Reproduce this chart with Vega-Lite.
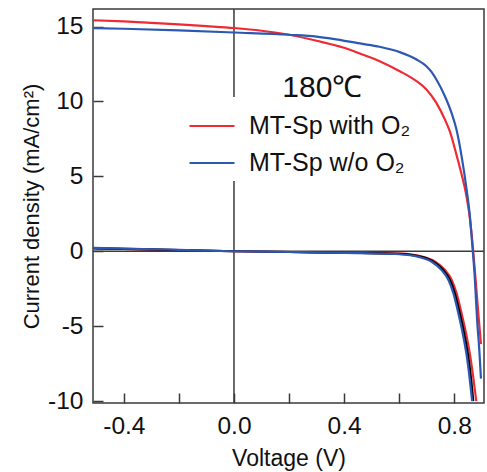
{
  "$schema": "https://vega.github.io/schema/vega-lite/v6.json",
  "width": 391,
  "height": 394,
  "autosize": {"type": "none"},
  "padding": {"left": 93, "top": 9, "right": 3, "bottom": 69},
  "background": "white",
  "config": {
    "font": "Liberation Sans",
    "view": {"stroke": "#3a3a3a", "strokeWidth": 1.5},
    "axis": {"grid": false, "domain": false, "labelFont": "Liberation Sans", "titleFont": "Liberation Sans", "labelColor": "#111", "titleColor": "#111", "tickColor": "#3a3a3a", "tickWidth": 1.5, "titleFontWeight": "normal"}
  },
  "datasets": {
    "curves": [
      {"sample": "MT-Sp with O₂", "condition": "light", "V": -0.51, "J": 15.42},
      {"sample": "MT-Sp with O₂", "condition": "light", "V": -0.4, "J": 15.34},
      {"sample": "MT-Sp with O₂", "condition": "light", "V": -0.3, "J": 15.25},
      {"sample": "MT-Sp with O₂", "condition": "light", "V": -0.2, "J": 15.15},
      {"sample": "MT-Sp with O₂", "condition": "light", "V": -0.1, "J": 15.03},
      {"sample": "MT-Sp with O₂", "condition": "light", "V": 0.0, "J": 14.9},
      {"sample": "MT-Sp with O₂", "condition": "light", "V": 0.1, "J": 14.72},
      {"sample": "MT-Sp with O₂", "condition": "light", "V": 0.2, "J": 14.45},
      {"sample": "MT-Sp with O₂", "condition": "light", "V": 0.3, "J": 14.05},
      {"sample": "MT-Sp with O₂", "condition": "light", "V": 0.4, "J": 13.58},
      {"sample": "MT-Sp with O₂", "condition": "light", "V": 0.457, "J": 13.2},
      {"sample": "MT-Sp with O₂", "condition": "light", "V": 0.529, "J": 12.69},
      {"sample": "MT-Sp with O₂", "condition": "light", "V": 0.602, "J": 12.02},
      {"sample": "MT-Sp with O₂", "condition": "light", "V": 0.663, "J": 11.35},
      {"sample": "MT-Sp with O₂", "condition": "light", "V": 0.699, "J": 10.8},
      {"sample": "MT-Sp with O₂", "condition": "light", "V": 0.735, "J": 9.9},
      {"sample": "MT-Sp with O₂", "condition": "light", "V": 0.766, "J": 8.79},
      {"sample": "MT-Sp with O₂", "condition": "light", "V": 0.784, "J": 8.0},
      {"sample": "MT-Sp with O₂", "condition": "light", "V": 0.81, "J": 6.3},
      {"sample": "MT-Sp with O₂", "condition": "light", "V": 0.827, "J": 5.1},
      {"sample": "MT-Sp with O₂", "condition": "light", "V": 0.842, "J": 3.9},
      {"sample": "MT-Sp with O₂", "condition": "light", "V": 0.856, "J": 2.3},
      {"sample": "MT-Sp with O₂", "condition": "light", "V": 0.868, "J": 0.2},
      {"sample": "MT-Sp with O₂", "condition": "light", "V": 0.878, "J": -2.0},
      {"sample": "MT-Sp with O₂", "condition": "light", "V": 0.888, "J": -4.3},
      {"sample": "MT-Sp with O₂", "condition": "light", "V": 0.897, "J": -6.2},

      {"sample": "MT-Sp w/o O₂", "condition": "light", "V": -0.51, "J": 14.9},
      {"sample": "MT-Sp w/o O₂", "condition": "light", "V": -0.4, "J": 14.85},
      {"sample": "MT-Sp w/o O₂", "condition": "light", "V": -0.2, "J": 14.74},
      {"sample": "MT-Sp w/o O₂", "condition": "light", "V": 0.0, "J": 14.6},
      {"sample": "MT-Sp w/o O₂", "condition": "light", "V": 0.2, "J": 14.45},
      {"sample": "MT-Sp w/o O₂", "condition": "light", "V": 0.3, "J": 14.33},
      {"sample": "MT-Sp w/o O₂", "condition": "light", "V": 0.36, "J": 14.18},
      {"sample": "MT-Sp w/o O₂", "condition": "light", "V": 0.457, "J": 13.87},
      {"sample": "MT-Sp w/o O₂", "condition": "light", "V": 0.529, "J": 13.65},
      {"sample": "MT-Sp w/o O₂", "condition": "light", "V": 0.602, "J": 13.29},
      {"sample": "MT-Sp w/o O₂", "condition": "light", "V": 0.663, "J": 12.8},
      {"sample": "MT-Sp w/o O₂", "condition": "light", "V": 0.699, "J": 12.35},
      {"sample": "MT-Sp w/o O₂", "condition": "light", "V": 0.718, "J": 11.95},
      {"sample": "MT-Sp w/o O₂", "condition": "light", "V": 0.735, "J": 11.46},
      {"sample": "MT-Sp w/o O₂", "condition": "light", "V": 0.766, "J": 10.35},
      {"sample": "MT-Sp w/o O₂", "condition": "light", "V": 0.79, "J": 9.24},
      {"sample": "MT-Sp w/o O₂", "condition": "light", "V": 0.808, "J": 8.12},
      {"sample": "MT-Sp w/o O₂", "condition": "light", "V": 0.827, "J": 6.3},
      {"sample": "MT-Sp w/o O₂", "condition": "light", "V": 0.845, "J": 4.1},
      {"sample": "MT-Sp w/o O₂", "condition": "light", "V": 0.857, "J": 2.3},
      {"sample": "MT-Sp w/o O₂", "condition": "light", "V": 0.866, "J": 0.3},
      {"sample": "MT-Sp w/o O₂", "condition": "light", "V": 0.874, "J": -1.6},
      {"sample": "MT-Sp w/o O₂", "condition": "light", "V": 0.883, "J": -4.6},
      {"sample": "MT-Sp w/o O₂", "condition": "light", "V": 0.891, "J": -6.6},
      {"sample": "MT-Sp w/o O₂", "condition": "light", "V": 0.897, "J": -8.5},

      {"sample": "MT-Sp with O₂", "condition": "dark", "V": -0.51, "J": 0.19},
      {"sample": "MT-Sp with O₂", "condition": "dark", "V": -0.4, "J": 0.15},
      {"sample": "MT-Sp with O₂", "condition": "dark", "V": -0.2, "J": 0.07},
      {"sample": "MT-Sp with O₂", "condition": "dark", "V": 0.0, "J": 0.0},
      {"sample": "MT-Sp with O₂", "condition": "dark", "V": 0.2, "J": -0.05},
      {"sample": "MT-Sp with O₂", "condition": "dark", "V": 0.4, "J": -0.1},
      {"sample": "MT-Sp with O₂", "condition": "dark", "V": 0.5, "J": -0.12},
      {"sample": "MT-Sp with O₂", "condition": "dark", "V": 0.605, "J": -0.16},
      {"sample": "MT-Sp with O₂", "condition": "dark", "V": 0.68, "J": -0.34},
      {"sample": "MT-Sp with O₂", "condition": "dark", "V": 0.728, "J": -0.66},
      {"sample": "MT-Sp with O₂", "condition": "dark", "V": 0.765, "J": -1.22},
      {"sample": "MT-Sp with O₂", "condition": "dark", "V": 0.79, "J": -1.88},
      {"sample": "MT-Sp with O₂", "condition": "dark", "V": 0.808, "J": -2.78},
      {"sample": "MT-Sp with O₂", "condition": "dark", "V": 0.826, "J": -4.1},
      {"sample": "MT-Sp with O₂", "condition": "dark", "V": 0.842, "J": -5.4},
      {"sample": "MT-Sp with O₂", "condition": "dark", "V": 0.858, "J": -7.0},
      {"sample": "MT-Sp with O₂", "condition": "dark", "V": 0.869, "J": -8.4},
      {"sample": "MT-Sp with O₂", "condition": "dark", "V": 0.88, "J": -10.0},

      {"sample": "Reference", "condition": "dark", "V": -0.51, "J": 0.2},
      {"sample": "Reference", "condition": "dark", "V": -0.4, "J": 0.16},
      {"sample": "Reference", "condition": "dark", "V": -0.2, "J": 0.08},
      {"sample": "Reference", "condition": "dark", "V": 0.0, "J": 0.0},
      {"sample": "Reference", "condition": "dark", "V": 0.2, "J": -0.05},
      {"sample": "Reference", "condition": "dark", "V": 0.4, "J": -0.1},
      {"sample": "Reference", "condition": "dark", "V": 0.5, "J": -0.13},
      {"sample": "Reference", "condition": "dark", "V": 0.602, "J": -0.17},
      {"sample": "Reference", "condition": "dark", "V": 0.675, "J": -0.35},
      {"sample": "Reference", "condition": "dark", "V": 0.723, "J": -0.68},
      {"sample": "Reference", "condition": "dark", "V": 0.759, "J": -1.24},
      {"sample": "Reference", "condition": "dark", "V": 0.784, "J": -1.9},
      {"sample": "Reference", "condition": "dark", "V": 0.802, "J": -2.8},
      {"sample": "Reference", "condition": "dark", "V": 0.82, "J": -4.13},
      {"sample": "Reference", "condition": "dark", "V": 0.835, "J": -5.4},
      {"sample": "Reference", "condition": "dark", "V": 0.851, "J": -7.05},
      {"sample": "Reference", "condition": "dark", "V": 0.861, "J": -8.5},
      {"sample": "Reference", "condition": "dark", "V": 0.869, "J": -10.0},

      {"sample": "MT-Sp w/o O₂", "condition": "dark", "V": -0.51, "J": 0.23},
      {"sample": "MT-Sp w/o O₂", "condition": "dark", "V": -0.4, "J": 0.18},
      {"sample": "MT-Sp w/o O₂", "condition": "dark", "V": -0.2, "J": 0.09},
      {"sample": "MT-Sp w/o O₂", "condition": "dark", "V": 0.0, "J": 0.0},
      {"sample": "MT-Sp w/o O₂", "condition": "dark", "V": 0.2, "J": -0.05},
      {"sample": "MT-Sp w/o O₂", "condition": "dark", "V": 0.4, "J": -0.11},
      {"sample": "MT-Sp w/o O₂", "condition": "dark", "V": 0.5, "J": -0.14},
      {"sample": "MT-Sp w/o O₂", "condition": "dark", "V": 0.6, "J": -0.2},
      {"sample": "MT-Sp w/o O₂", "condition": "dark", "V": 0.67, "J": -0.38},
      {"sample": "MT-Sp w/o O₂", "condition": "dark", "V": 0.718, "J": -0.7},
      {"sample": "MT-Sp w/o O₂", "condition": "dark", "V": 0.754, "J": -1.26},
      {"sample": "MT-Sp w/o O₂", "condition": "dark", "V": 0.779, "J": -1.92},
      {"sample": "MT-Sp w/o O₂", "condition": "dark", "V": 0.797, "J": -2.82},
      {"sample": "MT-Sp w/o O₂", "condition": "dark", "V": 0.815, "J": -4.15},
      {"sample": "MT-Sp w/o O₂", "condition": "dark", "V": 0.83, "J": -5.42},
      {"sample": "MT-Sp w/o O₂", "condition": "dark", "V": 0.846, "J": -7.07},
      {"sample": "MT-Sp w/o O₂", "condition": "dark", "V": 0.856, "J": -8.5},
      {"sample": "MT-Sp w/o O₂", "condition": "dark", "V": 0.865, "J": -10.0}
    ],
    "annotation": [{"label": "180℃", "V": 0.321, "J": 10.9}],
    "zero": [{"V": 0, "J": 0}]
  },
  "encoding": {
    "x": {
      "field": "V", "type": "quantitative",
      "scale": {"domain": [-0.512, 0.908], "nice": false, "zero": false},
      "axis": {
        "title": "Voltage (V)", "titleFontSize": 23, "titlePadding": 10,
        "values": [-0.4, -0.2, 0, 0.2, 0.4, 0.6, 0.8],
        "format": ".1f",
        "labelExpr": "round(datum.value*5) % 2 === 0 ? replace(datum.label, '−', '-') : ''",
        "labelFontSize": 24.5, "labelPadding": 21, "tickSize": -10,
        "encode": {"ticks": {"update": {"y2": {"signal": "round(datum.value*5) % 2 === 0 ? -10 : -5"}}}}
      }
    },
    "y": {
      "field": "J", "type": "quantitative",
      "scale": {"domain": [-10.13, 16.17], "nice": false, "zero": false},
      "axis": {
        "title": "Current density (mA/cm²)", "titleFontSize": 22, "titlePadding": 4,
        "values": [-10, -5, 0, 5, 10, 15],
        "labelExpr": "replace(datum.label, '−', '-')",
        "labelFontSize": 24.5, "labelPadding": 20, "tickSize": -10
      }
    }
  },
  "layer": [
    {
      "data": {"name": "zero"},
      "mark": {"type": "rule", "color": "#3a3a3a", "strokeWidth": 1.5},
      "encoding": {"x": {"field": "V", "type": "quantitative"}, "y": null}
    },
    {
      "data": {"name": "zero"},
      "mark": {"type": "rule", "color": "#3a3a3a", "strokeWidth": 1.5},
      "encoding": {"y": {"field": "J", "type": "quantitative"}, "x": null}
    },
    {
      "data": {"name": "curves"},
      "transform": [{"filter": "datum.condition === 'dark'"}],
      "mark": {"type": "line", "strokeWidth": 2.2, "interpolate": "monotone", "clip": true},
      "encoding": {
        "detail": {"field": "sample"},
        "color": {"field": "sample", "type": "nominal",
          "scale": {"domain": ["MT-Sp with O₂", "MT-Sp w/o O₂", "Reference"], "range": ["#ee2a33", "#2d58b2", "#000000"]}},
        "order": {"field": "V"}
      }
    },
    {
      "data": {"name": "curves"},
      "transform": [{"filter": "datum.condition === 'light'"}],
      "mark": {"type": "line", "strokeWidth": 2.2, "interpolate": "monotone", "clip": true},
      "encoding": {
        "color": {"field": "sample", "type": "nominal",
          "scale": {"domain": ["MT-Sp with O₂", "MT-Sp w/o O₂", "Reference"], "range": ["#ee2a33", "#2d58b2", "#000000"]},
          "legend": {
            "values": ["MT-Sp with O₂", "MT-Sp w/o O₂"],
            "title": null, "orient": "none", "legendX": 90, "legendY": 88,
            "fillColor": "white", "padding": 5,
            "symbolType": "stroke", "symbolSize": 2025, "symbolStrokeWidth": 2.2,
            "labelFontSize": 25, "labelFont": "Liberation Sans", "labelColor": "#111",
            "labelOffset": 13, "rowPadding": -10, "labelLimit": 300
          }
        },
        "order": {"field": "V"}
      }
    },
    {
      "data": {"name": "annotation"},
      "mark": {"type": "text", "fontSize": 30, "font": "Liberation Sans", "color": "#111", "align": "center", "baseline": "middle"},
      "encoding": {"text": {"field": "label"}}
    }
  ]
}
